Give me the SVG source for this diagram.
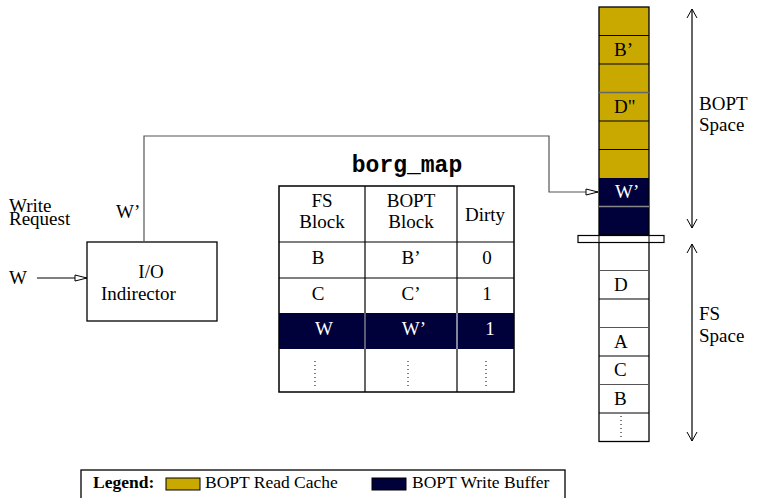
<svg xmlns="http://www.w3.org/2000/svg" width="759" height="498" viewBox="0 0 759 498">
  <defs>
    <style>
      text { font-family: "Liberation Serif", "Times New Roman", serif; font-size: 19px; fill: #000; }
      .c { text-anchor: middle; }
      .w { fill: #fff; }
      .mono { font-family: "Liberation Mono", "Courier New", monospace; font-weight: bold; font-size: 23px; }
      .leg { font-size: 17.5px; }
      .line { fill: none; stroke: #000; stroke-width: 1.2; }
      .gline { fill: none; stroke: #555; stroke-width: 1.2; }
      .box { fill: #fff; stroke: #000; stroke-width: 1.3; }
      .gold { fill: #c9a800; }
      .navy { fill: #00003a; }
      .dots { stroke: #000; stroke-width: 1; stroke-dasharray: 1 3; fill: none; }
    </style>
    <marker id="open" viewBox="0 0 14 8" refX="13" refY="4" markerWidth="14" markerHeight="8" markerUnits="userSpaceOnUse" orient="auto">
      <path d="M1,1 L13,4 L1,7 Z" fill="#fff" stroke="#000" stroke-width="1"/>
    </marker>
    <marker id="tip" viewBox="0 0 10 12" refX="9" refY="6" markerWidth="10" markerHeight="12" markerUnits="userSpaceOnUse" orient="auto-start-reverse">
      <path d="M0,1 L9,6 L0,11" fill="none" stroke="#000" stroke-width="1"/>
    </marker>
  </defs>

  <!-- incoming write request -->
  <g id="write-request">
    <text x="9" y="212" font-size="16.5"><tspan x="9" y="212">Write</tspan><tspan x="9" y="225">Request</tspan></text>
    <text x="9" y="284">W</text>
  </g>

  <!-- I/O Indirector -->
  <g id="io-indirector">
    <rect class="box" x="87" y="242" width="130" height="79"/>
    <text x="151" y="278" class="c">I/O</text>
    <text x="101" y="300">Indirector</text>
  </g>

  <!-- connectors -->
  <g id="connectors">
    <line class="line" x1="37" y1="278" x2="87" y2="278" marker-end="url(#open)"/>
    <path class="gline" d="M144,242 V136 H549 V192 H598" marker-end="url(#open)"/>
    <line class="line" x1="692" y1="9" x2="692" y2="228" marker-start="url(#tip)" marker-end="url(#tip)"/>
    <line class="line" x1="692" y1="244" x2="692" y2="441" marker-start="url(#tip)" marker-end="url(#tip)"/>
  </g>
  <text x="116" y="218">W’</text>

  <!-- borg_map table -->
  <g id="borg-map">
    <text class="mono c" x="407" y="172">borg_map</text>
    <rect class="navy" x="279" y="313" width="235" height="36"/>
    <rect x="279" y="186" width="235" height="206" fill="none" stroke="#000" stroke-width="1.5"/>
    <g class="line">
      <line x1="279" y1="242" x2="514" y2="242"/>
      <line x1="279" y1="278" x2="514" y2="278"/>
      <line x1="365" y1="186" x2="365" y2="313"/>
      <line x1="457" y1="186" x2="457" y2="313"/>
      <line x1="365" y1="349" x2="365" y2="392"/>
      <line x1="457" y1="349" x2="457" y2="392"/>
    </g>
    <line x1="365" y1="313" x2="365" y2="349" stroke="#999" stroke-width="1.2"/>
    <line x1="457" y1="313" x2="457" y2="349" stroke="#ddd" stroke-width="1.2"/>
    <text class="c" x="322" y="207">FS</text>
    <text class="c" x="322" y="228">Block</text>
    <text class="c" x="411" y="207">BOPT</text>
    <text class="c" x="411" y="228">Block</text>
    <text class="c" x="485" y="221">Dirty</text>
    <text class="c" x="318" y="264">B</text>
    <text class="c" x="411" y="264">B’</text>
    <text class="c" x="487" y="264">0</text>
    <text class="c" x="318" y="300">C</text>
    <text class="c" x="411" y="300">C’</text>
    <text class="c" x="487" y="300">1</text>
    <text class="c w" x="324" y="335">W</text>
    <text class="c w" x="414" y="335">W’</text>
    <text class="c w" x="490" y="335">1</text>
    <line class="dots" x1="315" y1="361" x2="315" y2="386"/>
    <line class="dots" x1="408" y1="361" x2="408" y2="386"/>
    <line class="dots" x1="486" y1="361" x2="486" y2="386"/>
  </g>

  <!-- BOPT space column -->
  <g id="bopt-space">
    <rect class="gold" x="599" y="7" width="50" height="171"/>
    <rect class="navy" x="599" y="178" width="50" height="57"/>
    <rect x="599" y="7" width="50" height="228" fill="none" stroke="#000" stroke-width="1.3"/>
    <g class="line">
      <line x1="599" y1="35.5" x2="649" y2="35.5"/>
      <line x1="599" y1="64" x2="649" y2="64"/>
      <line x1="599" y1="121" x2="649" y2="121"/>
      <line x1="599" y1="149.5" x2="649" y2="149.5"/>
    </g>
    <line x1="599" y1="92.5" x2="649" y2="92.5" stroke="#666" stroke-width="1.3"/>
    <line x1="599" y1="206.5" x2="649" y2="206.5" stroke="#888" stroke-width="1.3"/>
    <text x="614" y="56">B’</text>
    <text x="614" y="113">D"</text>
    <text class="w" x="615" y="198">W’</text>
    <text x="699" y="110" font-size="21">BOPT</text>
    <text x="699" y="131" font-size="21">Space</text>
  </g>

  <!-- FS space column -->
  <g id="fs-space">
    <rect x="599" y="242" width="50" height="199.5" fill="#fff" stroke="#000" stroke-width="1.3"/>
    <g class="line">
      <line x1="599" y1="299" x2="649" y2="299"/>
      <line x1="599" y1="356" x2="649" y2="356"/>
      <line x1="599" y1="413" x2="649" y2="413"/>
    </g>
    <g class="gline">
      <line x1="599" y1="270.5" x2="649" y2="270.5"/>
      <line x1="599" y1="327.5" x2="649" y2="327.5"/>
      <line x1="599" y1="384.5" x2="649" y2="384.5"/>
    </g>
    <text x="614" y="291">D</text>
    <text x="614" y="348">A</text>
    <text x="614" y="376">C</text>
    <text x="614" y="405">B</text>
    <line class="dots" x1="621" y1="416" x2="621" y2="440"/>
    <text x="699" y="320" font-size="21">FS</text>
    <text x="699" y="342" font-size="21">Space</text>
  </g>

  <!-- boundary between the two spaces -->
  <g id="boundary">
    <rect x="578" y="235.5" width="86" height="7" fill="#fff" stroke="#000" stroke-width="1.2"/>
    <line x1="599" y1="235.5" x2="599" y2="242.5" stroke="#000" stroke-width="1"/>
    <line x1="649" y1="235.5" x2="649" y2="242.5" stroke="#000" stroke-width="1"/>
  </g>

  <!-- legend -->
  <g id="legend">
    <rect x="81" y="470" width="484" height="30" fill="#fff" stroke="#000" stroke-width="1.3"/>
    <text class="leg" x="93" y="488" font-weight="bold">Legend:</text>
    <rect class="gold" x="166" y="478" width="34" height="12" stroke="#000" stroke-width="1"/>
    <text class="leg" x="205" y="488">BOPT Read Cache</text>
    <rect class="navy" x="372" y="478" width="34" height="12" stroke="#000" stroke-width="1"/>
    <text class="leg" x="412" y="488">BOPT Write Buffer</text>
  </g>
</svg>
